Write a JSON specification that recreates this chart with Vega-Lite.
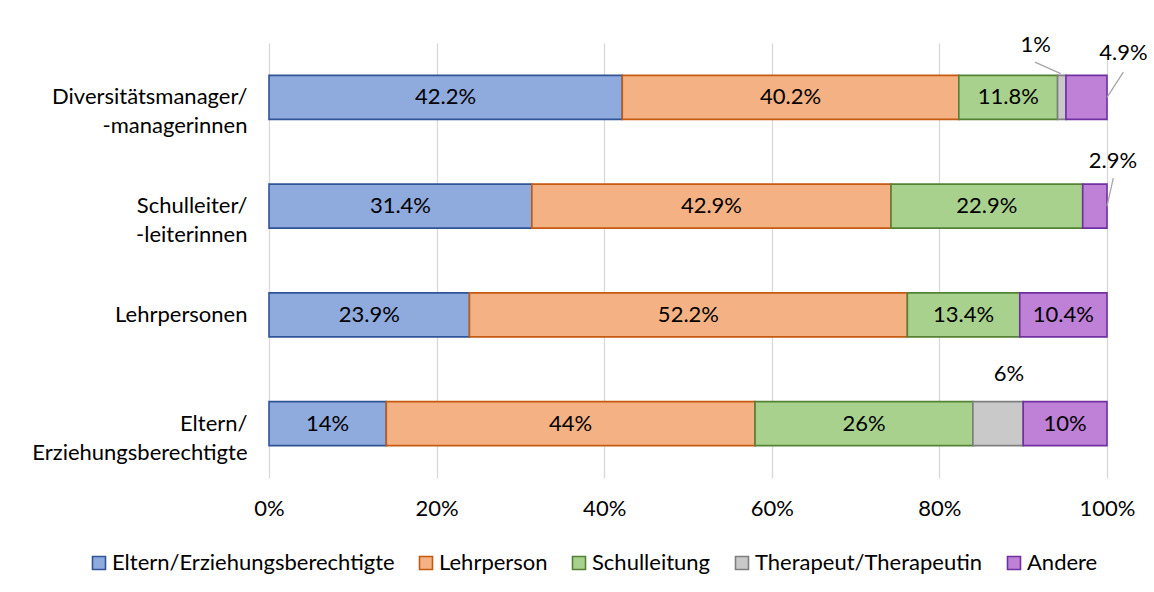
{
  "$schema": "https://vega.github.io/schema/vega-lite/v6.json",
  "width": 838,
  "height": 435,
  "autosize": {"type": "none"},
  "padding": {"left": 269, "top": 43, "right": 47, "bottom": 114},
  "background": "white",
  "config": {
    "font": "Lato",
    "view": {"stroke": null},
    "axis": {"labelFont": "Lato", "labelColor": "#000000", "labelFontSize": 22},
    "legend": {"labelFont": "Lato", "labelColor": "#000000", "labelFontSize": 22}
  },
  "data": {
    "values": [
      {"gruppe": "Diversitätsmanager/|-managerinnen", "kategorie": "Eltern/Erziehungsberechtigte", "nr": 1, "wert": 0.422},
      {"gruppe": "Diversitätsmanager/|-managerinnen", "kategorie": "Lehrperson", "nr": 2, "wert": 0.402},
      {"gruppe": "Diversitätsmanager/|-managerinnen", "kategorie": "Schulleitung", "nr": 3, "wert": 0.118},
      {"gruppe": "Diversitätsmanager/|-managerinnen", "kategorie": "Therapeut/Therapeutin", "nr": 4, "wert": 0.01},
      {"gruppe": "Diversitätsmanager/|-managerinnen", "kategorie": "Andere", "nr": 5, "wert": 0.049},
      {"gruppe": "Schulleiter/|-leiterinnen", "kategorie": "Eltern/Erziehungsberechtigte", "nr": 1, "wert": 0.314},
      {"gruppe": "Schulleiter/|-leiterinnen", "kategorie": "Lehrperson", "nr": 2, "wert": 0.429},
      {"gruppe": "Schulleiter/|-leiterinnen", "kategorie": "Schulleitung", "nr": 3, "wert": 0.229},
      {"gruppe": "Schulleiter/|-leiterinnen", "kategorie": "Andere", "nr": 5, "wert": 0.029},
      {"gruppe": "Lehrpersonen", "kategorie": "Eltern/Erziehungsberechtigte", "nr": 1, "wert": 0.239},
      {"gruppe": "Lehrpersonen", "kategorie": "Lehrperson", "nr": 2, "wert": 0.522},
      {"gruppe": "Lehrpersonen", "kategorie": "Schulleitung", "nr": 3, "wert": 0.134},
      {"gruppe": "Lehrpersonen", "kategorie": "Andere", "nr": 5, "wert": 0.104},
      {"gruppe": "Eltern/|Erziehungsberechtigte", "kategorie": "Eltern/Erziehungsberechtigte", "nr": 1, "wert": 0.14},
      {"gruppe": "Eltern/|Erziehungsberechtigte", "kategorie": "Lehrperson", "nr": 2, "wert": 0.44},
      {"gruppe": "Eltern/|Erziehungsberechtigte", "kategorie": "Schulleitung", "nr": 3, "wert": 0.26},
      {"gruppe": "Eltern/|Erziehungsberechtigte", "kategorie": "Therapeut/Therapeutin", "nr": 4, "wert": 0.06},
      {"gruppe": "Eltern/|Erziehungsberechtigte", "kategorie": "Andere", "nr": 5, "wert": 0.10}
    ]
  },
  "encoding": {
    "y": {
      "field": "gruppe",
      "type": "nominal",
      "sort": ["Diversitätsmanager/|-managerinnen", "Schulleiter/|-leiterinnen", "Lehrpersonen", "Eltern/|Erziehungsberechtigte"],
      "scale": {"paddingInner": 0.595, "paddingOuter": 0.2975},
      "axis": {
        "title": null,
        "domain": false,
        "ticks": false,
        "labelPadding": 22,
        "labelLimit": 0,
        "labelLineHeight": 29,
        "labelExpr": "split(datum.label, '|')"
      }
    },
    "x": {
      "field": "wert",
      "type": "quantitative",
      "stack": "normalize",
      "scale": {"domain": [0, 1]},
      "axis": {
        "title": null,
        "format": ".0%",
        "values": [0, 0.2, 0.4, 0.6, 0.8, 1],
        "domain": false,
        "ticks": false,
        "grid": true,
        "gridColor": "#d9d9d9",
        "gridWidth": 1.3,
        "labelFlush": false,
        "labelPadding": 20
      }
    },
    "order": {"field": "nr", "type": "quantitative", "sort": "ascending"}
  },
  "layer": [
    {
      "mark": {"type": "bar", "strokeWidth": 1.6},
      "encoding": {
        "color": {
          "field": "kategorie",
          "type": "nominal",
          "sort": ["Eltern/Erziehungsberechtigte", "Lehrperson", "Schulleitung", "Therapeut/Therapeutin", "Andere"],
          "scale": {
            "domain": ["Eltern/Erziehungsberechtigte", "Lehrperson", "Schulleitung", "Therapeut/Therapeutin", "Andere"],
            "range": ["#8faadc", "#f4b183", "#a9d18e", "#c9c9c9", "#bf80d8"]
          },
          "legend": {
            "title": null,
            "orient": "none",
            "direction": "horizontal",
            "legendX": -181,
            "legendY": 509,
            "symbolType": "square",
            "symbolSize": 169,
            "symbolStrokeWidth": 1.6,
            "labelOffset": 2,
            "labelLimit": 0,
            "columnPadding": 20
          }
        },
        "stroke": {
          "field": "kategorie",
          "type": "nominal",
          "sort": ["Eltern/Erziehungsberechtigte", "Lehrperson", "Schulleitung", "Therapeut/Therapeutin", "Andere"],
          "scale": {
            "domain": ["Eltern/Erziehungsberechtigte", "Lehrperson", "Schulleitung", "Therapeut/Therapeutin", "Andere"],
            "range": ["#2f5597", "#c55a11", "#548235", "#7f7f7f", "#7030a0"]
          },
          "legend": {
            "title": null,
            "orient": "none",
            "direction": "horizontal",
            "legendX": -181,
            "legendY": 509,
            "symbolType": "square",
            "symbolSize": 169,
            "symbolStrokeWidth": 1.6,
            "labelOffset": 2,
            "labelLimit": 0,
            "columnPadding": 20
          }
        }
      }
    },
    {
      "mark": {"type": "text", "fontSize": 22, "color": "#000000", "baseline": "middle", "align": "center"},
      "encoding": {
        "x": {"field": "wert", "type": "quantitative", "stack": "normalize", "bandPosition": 0.5},
        "detail": {"field": "kategorie"},
        "text": {"condition": {"test": "datum.wert >= 0.07", "field": "wert", "type": "quantitative", "format": ".1~%"}, "value": ""}
      }
    },
    {
      "mark": {"type": "text", "fontSize": 22, "color": "#000000", "baseline": "middle", "align": "center", "dx": -26, "dy": -52},
      "encoding": {
        "x": {"field": "wert", "type": "quantitative", "stack": "normalize", "bandPosition": 0.5},
        "detail": {"field": "kategorie"},
        "text": {"condition": {"test": "datum.gruppe === 'Diversitätsmanager/|-managerinnen' && datum.kategorie === 'Therapeut/Therapeutin'", "field": "wert", "type": "quantitative", "format": ".1~%"}, "value": ""}
      }
    },
    {
      "mark": {"type": "text", "fontSize": 22, "color": "#000000", "baseline": "middle", "align": "center", "dx": 37, "dy": -44},
      "encoding": {
        "x": {"field": "wert", "type": "quantitative", "stack": "normalize", "bandPosition": 0.5},
        "detail": {"field": "kategorie"},
        "text": {"condition": {"test": "datum.gruppe === 'Diversitätsmanager/|-managerinnen' && datum.kategorie === 'Andere'", "field": "wert", "type": "quantitative", "format": ".1~%"}, "value": ""}
      }
    },
    {
      "mark": {"type": "text", "fontSize": 22, "color": "#000000", "baseline": "middle", "align": "center", "dx": 18, "dy": -45},
      "encoding": {
        "x": {"field": "wert", "type": "quantitative", "stack": "normalize", "bandPosition": 0.5},
        "detail": {"field": "kategorie"},
        "text": {"condition": {"test": "datum.gruppe === 'Schulleiter/|-leiterinnen' && datum.kategorie === 'Andere'", "field": "wert", "type": "quantitative", "format": ".1~%"}, "value": ""}
      }
    },
    {
      "mark": {"type": "text", "fontSize": 22, "color": "#000000", "baseline": "middle", "align": "center", "dx": 11, "dy": -50},
      "encoding": {
        "x": {"field": "wert", "type": "quantitative", "stack": "normalize", "bandPosition": 0.5},
        "detail": {"field": "kategorie"},
        "text": {"condition": {"test": "datum.gruppe === 'Eltern/|Erziehungsberechtigte' && datum.kategorie === 'Therapeut/Therapeutin'", "field": "wert", "type": "quantitative", "format": ".1~%"}, "value": ""}
      }
    },
    {
      "transform": [{"filter": "datum.gruppe === 'Diversitätsmanager/|-managerinnen' && datum.kategorie === 'Therapeut/Therapeutin'"}],
      "mark": {"type": "rule", "color": "#a6a6a6", "strokeWidth": 1.3},
      "encoding": {
        "x": {"datum": 0.914, "type": "quantitative"},
        "x2": {"datum": 0.9448},
        "y": {"datum": "Diversitätsmanager/|-managerinnen", "type": "nominal", "bandPosition": -0.30},
        "y2": {"datum": "Diversitätsmanager/|-managerinnen", "bandPosition": -0.04},
        "order": null
      }
    },
    {
      "transform": [{"filter": "datum.gruppe === 'Diversitätsmanager/|-managerinnen' && datum.kategorie === 'Andere'"}],
      "mark": {"type": "rule", "color": "#a6a6a6", "strokeWidth": 1.3},
      "encoding": {
        "x": {"datum": 1.0195, "type": "quantitative"},
        "x2": {"datum": 1.0},
        "y": {"datum": "Diversitätsmanager/|-managerinnen", "type": "nominal", "bandPosition": -0.075},
        "y2": {"datum": "Diversitätsmanager/|-managerinnen", "bandPosition": 0.5},
        "order": null
      }
    },
    {
      "transform": [{"filter": "datum.gruppe === 'Schulleiter/|-leiterinnen' && datum.kategorie === 'Andere'"}],
      "mark": {"type": "rule", "color": "#a6a6a6", "strokeWidth": 1.3},
      "encoding": {
        "x": {"datum": 1.0075, "type": "quantitative"},
        "x2": {"datum": 1.0},
        "y": {"datum": "Schulleiter/|-leiterinnen", "type": "nominal", "bandPosition": -0.136},
        "y2": {"datum": "Schulleiter/|-leiterinnen", "bandPosition": 0.5},
        "order": null
      }
    }
  ]
}
